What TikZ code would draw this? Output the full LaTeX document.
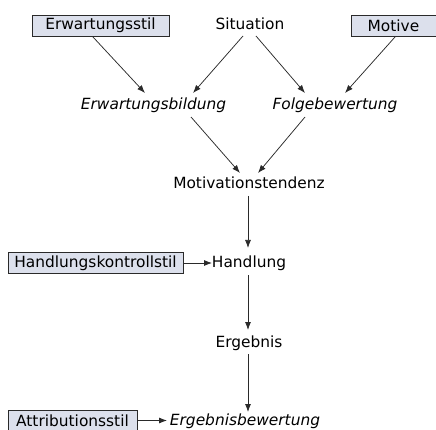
\documentclass[tikz,border=0pt]{standalone}
\usepackage{fontspec}
\setmainfont{DejaVu Sans}
\usetikzlibrary{arrows.meta}
\definecolor{boxfill}{HTML}{DCE0EC}
\definecolor{linec}{HTML}{2A2A2A}
\tikzset{
  lbl/.style={font=\fontsize{15.4}{18}\selectfont, inner sep=0pt, anchor=base},
  ital/.style={lbl, font=\fontsize{15.4}{18}\selectfont\itshape},
  stilbox/.style={font=\fontsize{15.4}{18}\selectfont, draw=linec, line width=0.8pt, fill=boxfill, inner sep=0pt, minimum height=21pt},
  conn/.style={draw=linec, line width=0.75pt, -{Latex[length=8pt,width=6pt]}}
}
\begin{document}
\begin{tikzpicture}[x=1pt,y=1pt]
\useasboundingbox (0,0) rectangle (436,-430);
\node[stilbox, minimum width=137pt] (es) at (100.5,-25.5) {Erwartungsstil};
\node[lbl] (sit) at (250,-30) {Situation};
\node[stilbox, minimum width=85pt] (mot) at (393.5,-25.5) {Motive};
\node[ital] (eb) at (153.5,-110) {Erwartungsbildung};
\node[ital] (fb) at (335,-110) {Folgebewertung};
\node[lbl] (mt) at (249,-189) {Motivationstendenz};
\node[stilbox, minimum width=175pt] (hk) at (95.5,-263) {Handlungskontrollstil};
\node[lbl] (hand) at (249,-268) {Handlung};
\node[lbl] (erg) at (249,-347) {Ergebnis};
\node[stilbox, minimum width=129pt] (attr) at (72.5,-420.5) {Attributionsstil};
\node[ital] (ergb) at (245,-425) {Ergebnisbewertung};
\draw[conn] ([shift={(-7.5,-11.5)}]es.center) -- ([shift={(-8.5,17)}]eb.base);
\draw[conn] ([shift={(-7,-6)}]sit.base) -- ([shift={(39.5,17)}]eb.base);
\draw[conn] ([shift={(6,-6)}]sit.base) -- ([shift={(-30,17)}]fb.base);
\draw[conn] ([shift={(1.5,-11.5)}]mot.center) -- ([shift={(10,17)}]fb.base);
\draw[conn] ([shift={(37.5,-7)}]eb.base) -- ([shift={(-9,16)}]mt.base);
\draw[conn] ([shift={(-30,-7)}]fb.base) -- ([shift={(9,16)}]mt.base);
\draw[conn] ([shift={(-1,-7)}]mt.base) -- ([shift={(-1,20)}]hand.base);
\draw[conn] (hk.east) -- ([shift={(-37,5)}]hand.base);
\draw[conn] ([shift={(-1,-7)}]hand.base) -- ([shift={(-1,17)}]erg.base);
\draw[conn] ([shift={(-1,-7)}]erg.base) -- ([shift={(3,13)}]ergb.base);
\draw[conn] (attr.east) -- ([shift={(-78,4.5)}]ergb.base);
\end{tikzpicture}
\end{document}
